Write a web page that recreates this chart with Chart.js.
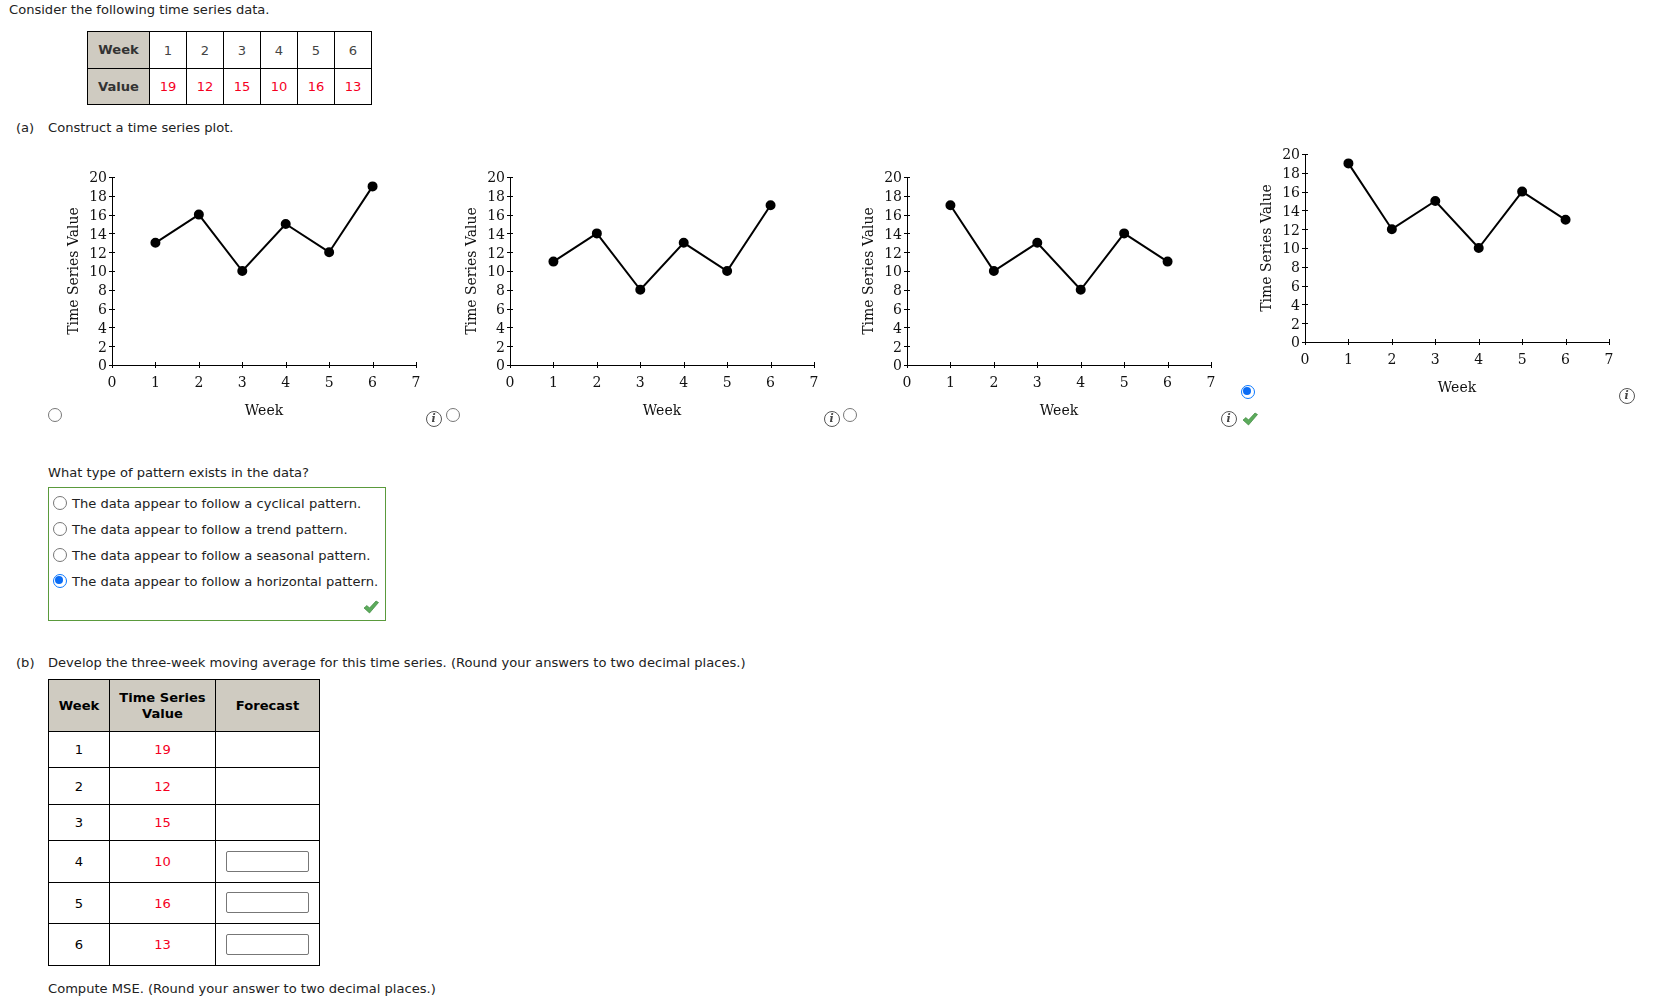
<!DOCTYPE html>
<html>
<head>
<meta charset="utf-8">
<script src="https://cdn.jsdelivr.net/npm/chart.js@4"></script>
<style>
html, body { margin: 0; padding: 0; background: #fff; }
body { width: 1654px; height: 998px; position: relative; overflow: hidden; font-family: "DejaVu Sans", sans-serif; font-size: 13.08px; color: #222; }
.t { position: absolute; white-space: nowrap; line-height: 20px; }
canvas { position: absolute; }
table { position: absolute; border-collapse: collapse; table-layout: fixed; }
td, th { border: 1px solid #000; padding: 0; text-align: center; font-size: 13.08px; box-sizing: border-box; }
th { background: #cfcbc1; font-weight: bold; line-height: 16px; }
.data1 th { color: #333; }
.data1 td { color: #444; }
td.v { color: #f5001e; }
.box { position: absolute; left: 48px; top: 487px; width: 336px; height: 132px; border: 1px solid #5a9a3c; }
.radio { position: absolute; width: 14px; height: 14px; box-sizing: border-box; border: 1px solid #777; border-radius: 50%; background: #fff; transform: translate(-50%, -50%); }
.radio.on { border: 1.5px solid #0a78ff; }
.radio.on::after { content: ""; position: absolute; left: 1.5px; top: 1.5px; width: 8px; height: 8px; border-radius: 50%; background: #0a6cf5; }
.info { position: absolute; width: 14px; height: 14px; border: 1px solid #555; border-radius: 50%; transform: translate(-50%, -50%); text-align: center; font: italic bold 11px/14px "DejaVu Serif", serif; color: #444; background: #fff; }
.chk { position: absolute; width: 16px; height: 14px; transform: translate(-50%, -50%); }
.inp { position: absolute; left: 226px; width: 83px; height: 21px; border: 1px solid #777; border-radius: 2px; box-sizing: border-box; background: #fff; }
</style>
</head>
<body>

<div class="t" style="left:9px;top:0px">Consider the following time series data.</div>

<table class="data1" style="left:87px;top:31px;width:285px">
<colgroup><col style="width:62px"><col style="width:37px"><col style="width:37px"><col style="width:37px"><col style="width:37px"><col style="width:37px"><col style="width:37px"></colgroup>
<tr style="height:37px"><th>Week</th><td>1</td><td>2</td><td>3</td><td>4</td><td>5</td><td>6</td></tr>
<tr style="height:36px"><th>Value</th><td class="v">19</td><td class="v">12</td><td class="v">15</td><td class="v">10</td><td class="v">16</td><td class="v">13</td></tr>
</table>

<div class="t" style="left:16px;top:118px">(a)</div>
<div class="t" style="left:48px;top:118px">Construct a time series plot.</div>

<canvas id="plotOne" width="400" height="270" style="left:42px;top:157px"></canvas>
<canvas id="plotTwo" width="400" height="270" style="left:440px;top:157px"></canvas>
<canvas id="plotThree" width="400" height="270" style="left:837px;top:157px"></canvas>
<canvas id="plotFour" width="400" height="270" style="left:1235px;top:134px"></canvas>

<div class="radio" style="left:54.5px;top:414.5px"></div>
<div class="radio" style="left:452.5px;top:414.5px"></div>
<div class="radio" style="left:849.5px;top:414.5px"></div>
<div class="radio on" style="left:1247.5px;top:391.5px"></div>
<div class="info" style="left:433.5px;top:418.5px">i</div>
<div class="info" style="left:831.5px;top:418.5px">i</div>
<div class="info" style="left:1228.5px;top:418.5px">i</div>
<div class="info" style="left:1626.5px;top:395.5px">i</div>
<svg class="chk" style="left:1249.5px;top:419px" viewBox="0 0 16 14"><path d="M1 8 L4 5.5 L6.5 8 L13 1 L15.5 2.5 L6.5 13 Z" fill="#5cab5c" stroke="#3d8a3d" stroke-width="0.7"/></svg>

<div class="t" style="left:48px;top:463px">What type of pattern exists in the data?</div>
<div class="box"></div>
<div class="radio" style="left:59.5px;top:502.5px"></div>
<div class="radio" style="left:59.5px;top:528.5px"></div>
<div class="radio" style="left:59.5px;top:554.5px"></div>
<div class="radio on" style="left:59.5px;top:580.5px"></div>
<div class="t" style="left:72px;top:494px">The data appear to follow a cyclical pattern.</div>
<div class="t" style="left:72px;top:520px">The data appear to follow a trend pattern.</div>
<div class="t" style="left:72px;top:546px">The data appear to follow a seasonal pattern.</div>
<div class="t" style="left:72px;top:572px">The data appear to follow a horizontal pattern.</div>
<svg class="chk" style="left:371px;top:607px" viewBox="0 0 16 14"><path d="M1 8 L4 5.5 L6.5 8 L13 1 L15.5 2.5 L6.5 13 Z" fill="#5cab5c" stroke="#3d8a3d" stroke-width="0.7"/></svg>

<div class="t" style="left:16px;top:653px">(b)</div>
<div class="t" style="left:48px;top:653px">Develop the three-week moving average for this time series. (Round your answers to two decimal places.)</div>

<table style="left:48px;top:679px;width:271px;color:#000">
<colgroup><col style="width:61px"><col style="width:106px"><col style="width:104px"></colgroup>
<tr style="height:52px"><th>Week</th><th>Time Series<br>Value</th><th>Forecast</th></tr>
<tr style="height:36px"><td>1</td><td class="v">19</td><td></td></tr>
<tr style="height:37px"><td>2</td><td class="v">12</td><td></td></tr>
<tr style="height:36px"><td>3</td><td class="v">15</td><td></td></tr>
<tr style="height:42px"><td>4</td><td class="v">10</td><td></td></tr>
<tr style="height:41px"><td>5</td><td class="v">16</td><td></td></tr>
<tr style="height:42px"><td>6</td><td class="v">13</td><td></td></tr>
</table>
<div class="inp" style="top:851px"></div>
<div class="inp" style="top:892px"></div>
<div class="inp" style="top:934px"></div>

<div class="t" style="left:48px;top:979px">Compute MSE. (Round your answer to two decimal places.)</div>

<script>
const weeks = [1, 2, 3, 4, 5, 6];
const plotOneValues = [13, 16, 10, 15, 12, 19];
const plotTwoValues = [11, 14, 8, 13, 10, 17];
const plotThreeValues = [17, 10, 13, 8, 14, 11];
const plotFourValues = [19, 12, 15, 10, 16, 13];

const xTitle = 'Week';
const yTitle = 'Time Series Value';
const plotFont = { family: '"DejaVu Serif", serif', size: 14 };

// small ticks that cross the axis line, chart.js only draws them on the outside
const crossTicks = {
    id: 'crossTicks',
    afterDatasetsDraw(chart) {
        const ctx = chart.ctx;
        const { x, y } = chart.scales;
        ctx.save();
        ctx.strokeStyle = '#000';
        ctx.lineWidth = 1;
        ctx.beginPath();
        x.ticks.forEach((tick, i) => {
            const px = Math.round(x.getPixelForTick(i)) + 0.5;
            ctx.moveTo(px, y.bottom - 3);
            ctx.lineTo(px, y.bottom + 3);
        });
        y.ticks.forEach((tick, i) => {
            const py = Math.round(y.getPixelForTick(i)) + 0.5;
            ctx.moveTo(x.left - 3, py);
            ctx.lineTo(x.left + 3, py);
        });
        ctx.stroke();
        ctx.restore();
    }
};

function renderPlot(canvasId, values) {
    const ctx = document.getElementById(canvasId).getContext('2d');
    return new Chart(ctx, {
        type: 'line',
        data: {
            datasets: [{
                data: weeks.map((week, i) => ({ x: week, y: values[i] })),
                borderColor: '#000',
                borderWidth: 2,
                backgroundColor: '#000',
                pointRadius: 4,
                pointBackgroundColor: '#000',
                tension: 0
            }]
        },
        options: {
            responsive: false,
            animation: false,
            events: [],
            layout: { padding: { top: 20, right: 26, left: 0, bottom: 0 } },
            scales: {
                x: {
                    type: 'linear',
                    min: 0,
                    max: 7,
                    afterFit: scale => { scale.height = 62; },
                    border: { color: '#000', width: 1 },
                    grid: { drawOnChartArea: false, drawTicks: false },
                    ticks: { stepSize: 1, autoSkip: false, color: '#111', font: plotFont, padding: 10, maxRotation: 0 },
                    title: { display: true, text: xTitle, color: '#111', font: plotFont, padding: { top: 0, bottom: 7.5 } }
                },
                y: {
                    min: 0,
                    max: 20,
                    afterFit: scale => { scale.width = 70; },
                    border: { color: '#000', width: 1 },
                    grid: { drawOnChartArea: false, drawTicks: false },
                    ticks: {
                        stepSize: 2,
                        autoSkip: false,
                        color: '#111',
                        // blank first line + tiny line height pushes the number down a bit, reference sits lower
                        font: { ...plotFont, lineHeight: 0.25 },
                        padding: 5,
                        callback: value => ['', String(value)]
                    },
                    title: { display: true, text: yTitle, color: '#111', font: plotFont, padding: { top: 23.5, bottom: 0 } }
                }
            },
            plugins: { legend: { display: false }, tooltip: { enabled: false } }
        },
        plugins: [crossTicks]
    });
}

renderPlot('plotOne', plotOneValues);
renderPlot('plotTwo', plotTwoValues);
renderPlot('plotThree', plotThreeValues);
renderPlot('plotFour', plotFourValues);
</script>
</body>
</html>
